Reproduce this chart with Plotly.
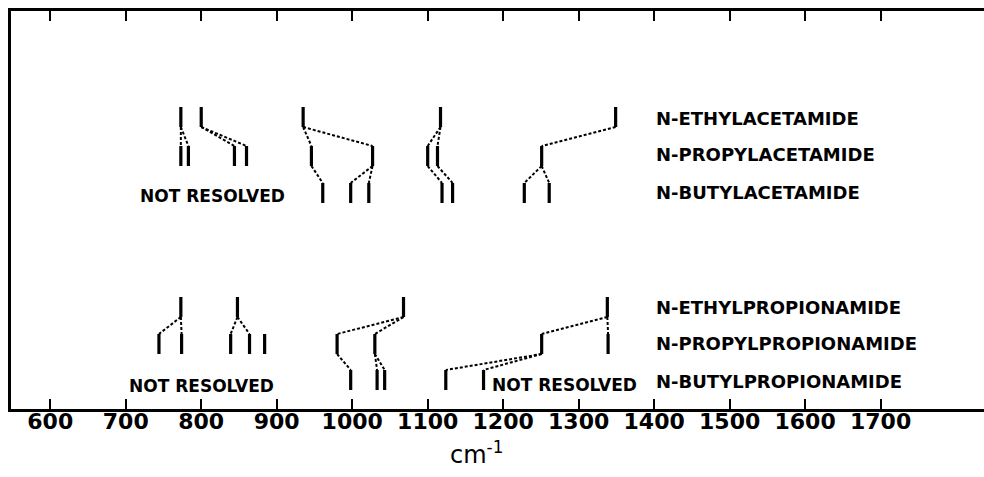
import plotly.graph_objects as go

# ---- data (band positions, cm^-1) ----
acet_ethyl = [773, 800, 935, 1117, 1349]
acet_propyl = [773, 783, 844, 860, 946, 1027, 1100, 1113, 1251]
acet_butyl = [961, 998, 1022, 1119, 1133, 1228, 1261]

prop_ethyl = [773, 848, 1068, 1338]
prop_propyl = [744, 774, 839, 864, 884, 980, 1030, 1251, 1339]
prop_butyl = [998, 1033, 1043, 1124, 1174]

# correlations (upper band, lower band)
acet_links_ep = [(773, 773), (773, 783), (800, 844), (800, 860), (935, 946),
                 (935, 1027), (1117, 1100), (1117, 1113), (1349, 1251)]
acet_links_pb = [(946, 961), (1027, 998), (1027, 1022), (1100, 1119),
                 (1113, 1133), (1251, 1228), (1251, 1261)]
prop_links_ep = [(773, 744), (773, 774), (848, 839), (848, 864), (1068, 980),
                 (1068, 1030), (1338, 1251), (1338, 1339)]
prop_links_pb = [(980, 998), (1030, 1033), (1030, 1043), (1251, 1124), (1251, 1174)]

compound_names = ["N-ETHYLACETAMIDE", "N-PROPYLACETAMIDE", "N-BUTYLACETAMIDE",
                  "N-ETHYLPROPIONAMIDE", "N-PROPYLPROPIONAMIDE", "N-BUTYLPROPIONAMIDE"]
tick_vals = [600, 700, 800, 900, 1000, 1100, 1200, 1300, 1400, 1500, 1600, 1700]
tick_text = [str(v) for v in tick_vals]

# ---- layout constants ----
ROW_Y = [292, 253, 216, 102, 65, 29]
H = 10
FONT = "DejaVu Sans"

rows = [acet_ethyl, acet_propyl, acet_butyl, prop_ethyl, prop_propyl, prop_butyl]

fig = go.Figure()

# bars
for vals, yc in zip(rows, ROW_Y):
    xs, ys = [], []
    for v in vals:
        xs += [v, v, None]
        ys += [yc - H, yc + H, None]
    fig.add_trace(go.Scatter(x=xs, y=ys, mode="lines",
                             line=dict(color="black", width=3.2),
                             hoverinfo="skip", showlegend=False))

# connectors
link_sets = [(acet_links_ep, ROW_Y[0], ROW_Y[1]), (acet_links_pb, ROW_Y[1], ROW_Y[2]),
             (prop_links_ep, ROW_Y[3], ROW_Y[4]), (prop_links_pb, ROW_Y[4], ROW_Y[5])]
xs, ys = [], []
for links, yu, yl in link_sets:
    for a, b in links:
        xs += [a, b, None]
        ys += [yu - H, yl + H, None]
fig.add_trace(go.Scatter(x=xs, y=ys, mode="lines",
                         line=dict(color="black", width=2, dash="3px,2px"),
                         hoverinfo="skip", showlegend=False))

# compound labels
label_y = [291, 255, 217, 102, 66, 28]
for name, yy in zip(compound_names, label_y):
    fig.add_annotation(x=1400, y=yy, text=name, showarrow=False, xanchor="left",
                       yanchor="middle", font=dict(family=FONT, size=18, color="black", weight="bold"))

# not resolved notes
for xx, yy, anc in [(815, 213, "center"), (800, 23, "center"), (1182, 24, "left")]:
    fig.add_annotation(x=xx, y=yy, text="NOT RESOLVED", showarrow=False, xanchor=anc,
                       yanchor="middle", font=dict(family=FONT, size=17, color="black", weight="bold"))

# axis unit
fig.add_annotation(x=0.478, y=-0.155, xref="paper", yref="paper", text="cm<sup>-1</sup>",
                   showarrow=False, font=dict(family=FONT, size=24, color="black"))

fig.update_layout(
    width=984, height=477,
    margin=dict(l=11, r=0, t=11, b=68),
    paper_bgcolor="white", plot_bgcolor="white",
    xaxis=dict(range=[548, 1837], tickvals=tick_vals, ticktext=tick_text,
               ticks="inside", ticklen=10, tickwidth=2, tickcolor="black",
               showline=True, linewidth=2.5, linecolor="black", mirror="ticks",
               showgrid=False, zeroline=False, ticklabelstandoff=-9,
               tickfont=dict(family=FONT, size=22, color="black", weight="bold")),
    yaxis=dict(range=[0, 398], showline=True, linewidth=2.5, linecolor="black",
               showticklabels=False, ticks="", showgrid=False, zeroline=False),
)

fig.write_html("out.html")
